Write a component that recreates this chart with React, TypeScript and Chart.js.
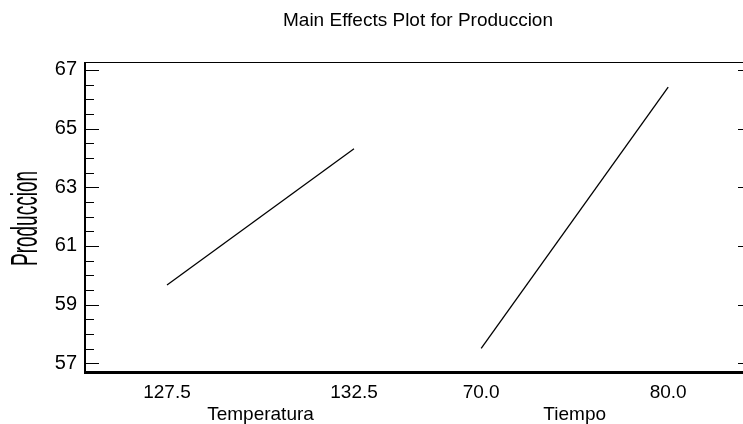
import React, { useEffect, useRef } from "react";
import { Chart, registerables } from "chart.js";

Chart.register(...registerables);

// ---- data ----
const titleText = "Main Effects Plot for Produccion";
const yAxisTitle = "Produccion";
const factorNames = ["Temperatura", "Tiempo"];
const lowLevelLabels = ["127.5", "70.0"];
const highLevelLabels = ["132.5", "80.0"];
const lowMeans = [59.67, 57.51];
const highMeans = [64.31, 66.41];
const yTickLabels = [57, 59, 61, 63, 65, 67];

// ---- layout constants ----
const W = 743;
const H = 424;
const FACTOR_GAP = 1.68;
const X_MIN = -0.4385;
const X_MAX = 3.08;
const Y_MIN = 56.67;
const Y_MAX = 67.27;
const FONT = "'Liberation Sans', Arial, sans-serif";

const xTickValues: number[] = [];
const xTickText: (string | string[])[] = [];
factorNames.forEach((name, i) => {
  const base = i * FACTOR_GAP;
  xTickValues.push(base, base + 0.5, base + 1);
  xTickText.push(lowLevelLabels[i], ["", name], highLevelLabels[i]);
});

const framePlugin = {
  id: "frame",
  afterDraw(chart: any) {
    const { ctx, chartArea, scales } = chart;
    const { left, right, top, bottom } = chartArea;
    const y = scales.y;
    ctx.save();
    ctx.fillStyle = "#000";
    // frame
    ctx.fillRect(left, top, right - left, 1);
    ctx.fillRect(left - 1, top, 2, bottom - top + 1);
    ctx.fillRect(left - 1, bottom - 2, right - left + 1, 3);
    // ticks
    const majors = yTickLabels;
    const minors: number[] = [];
    for (let k = 0; k < majors.length - 1; k++) {
      for (let s = 1; s < 4; s++) minors.push(majors[k] + s * 0.5);
    }
    majors.forEach((v) => {
      const py = Math.round(y.getPixelForValue(v));
      ctx.fillRect(left + 1, py, 13, 1);
      ctx.fillRect(right - 5, py, 5, 1);
    });
    minors.forEach((v) => {
      const py = Math.round(y.getPixelForValue(v));
      ctx.fillRect(left + 1, py, 8, 1);
    });
    // title
    ctx.font = `19px ${FONT}`;
    ctx.textAlign = "center";
    ctx.textBaseline = "middle";
    ctx.fillText(titleText, (left + right) / 2 + 4, 21);
    // y axis title (stretched)
    ctx.translate(37, 218.5);
    ctx.rotate(-Math.PI / 2);
    ctx.scale(1, 1.95);
    ctx.textBaseline = "alphabetic";
    ctx.font = `19px ${FONT}`;
    ctx.fillText(yAxisTitle, 0, 0);
    ctx.restore();
  },
};

export default function App() {
  const ref = useRef<HTMLCanvasElement | null>(null);
  useEffect(() => {
    if (!ref.current) return;
    const datasets = factorNames.map((name, i) => ({
      label: name,
      data: [
        { x: i * FACTOR_GAP, y: lowMeans[i] },
        { x: i * FACTOR_GAP + 1, y: highMeans[i] },
      ],
      borderColor: "#000",
      borderWidth: 1.3,
      pointRadius: 0,
      fill: false,
      tension: 0,
    }));
    const chart = new Chart(ref.current, {
      type: "line",
      data: { datasets },
      options: {
        animation: false,
        responsive: false,
        devicePixelRatio: 1,
        layout: { padding: { top: 62, left: 0, right: 0, bottom: 0 } },
        plugins: {
          legend: { display: false },
          tooltip: { enabled: false },
          title: { display: false },
        },
        scales: {
          x: {
            type: "linear",
            min: X_MIN,
            max: X_MAX,
            afterBuildTicks: (axis: any) => {
              axis.ticks = xTickValues.map((v) => ({ value: v }));
            },
            afterFit: (axis: any) => {
              axis.height = H - 373;
            },
            grid: { display: false, drawTicks: false },
            border: { display: false },
            ticks: {
              autoSkip: false,
              maxRotation: 0,
              minRotation: 0,
              padding: 9,
              color: "#000",
              font: { family: FONT, size: 19, lineHeight: 1.15 },
              callback: (_v: any, idx: number) => xTickText[idx],
            },
          },
          y: {
            type: "linear",
            min: Y_MIN,
            max: Y_MAX,
            afterBuildTicks: (axis: any) => {
              axis.ticks = yTickLabels.map((v) => ({ value: v }));
            },
            afterFit: (axis: any) => {
              axis.width = 85;
            },
            grid: { display: false, drawTicks: false },
            border: { display: false },
            ticks: {
              padding: 8,
              color: "#000",
              font: { family: FONT, size: 20 },
              callback: (v: any) => String(v),
            },
          },
        },
      },
      plugins: [framePlugin],
    });
    return () => chart.destroy();
  }, []);
  return (
    <div style={{ position: "fixed", left: 0, top: 0, width: W, height: H, background: "#fff" }}>
      <canvas ref={ref} width={W} height={H} style={{ width: W, height: H, display: "block" }} />
    </div>
  );
}
